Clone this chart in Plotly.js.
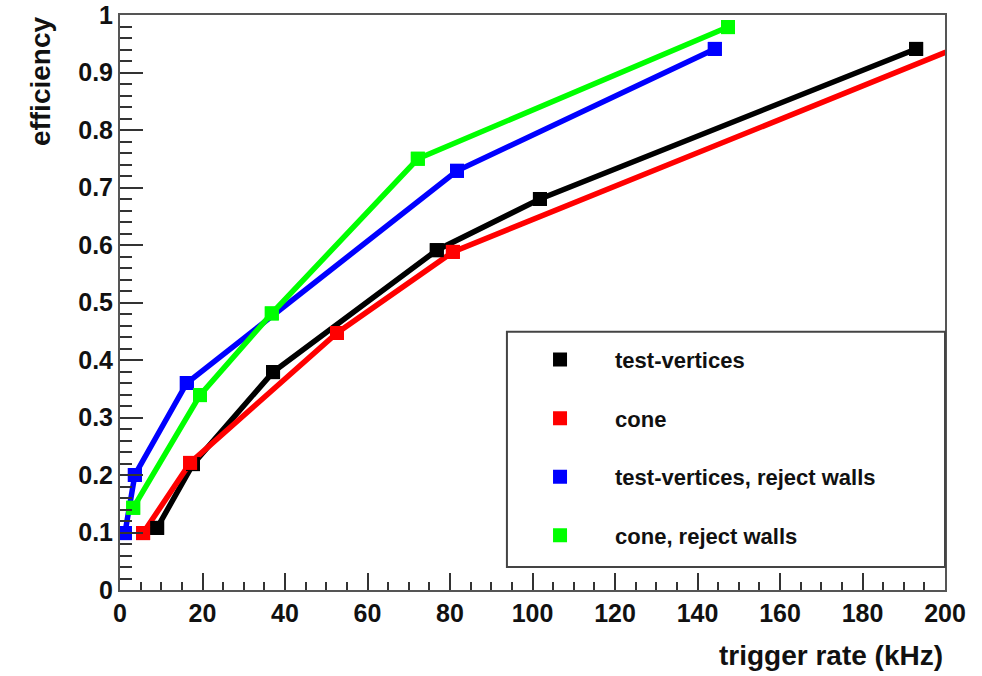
<!DOCTYPE html>
<html>
<head>
<meta charset="utf-8">
<script src="https://cdn.plot.ly/plotly-3.0.1.min.js"></script>
<style>html,body{margin:0;padding:0;background:#fff;}#chart{width:982px;height:676px;}</style>
</head>
<body>
<div id="chart"></div>
<script>
// Data
const seriesNames = ["test-vertices", "cone", "test-vertices, reject walls", "cone, reject walls"];
const seriesColors = ["#000000", "#ff0000", "#0000ff", "#00ff00"];

const tvRate = [9.0, 17.7, 37.1, 76.8, 101.8, 193.0];
const tvEff  = [0.108, 0.219, 0.379, 0.591, 0.680, 0.941];

const coneRate = [5.6, 17.0, 52.6, 80.7, 218];
const coneEff  = [0.099, 0.221, 0.447, 0.588, 0.987];

const tvWallRate = [1.2, 3.6, 16.2, 81.7, 144.2];
const tvWallEff  = [0.099, 0.200, 0.360, 0.729, 0.941];

const coneWallRate = [3.2, 19.4, 36.8, 72.2, 147.4];
const coneWallEff  = [0.143, 0.339, 0.481, 0.750, 0.979];

const xTicks = [0, 20, 40, 60, 80, 100, 120, 140, 160, 180, 200];
const yTicks = [0, 0.1, 0.2, 0.3, 0.4, 0.5, 0.6, 0.7, 0.8, 0.9, 1];

const xs = [tvRate, coneRate, tvWallRate, coneWallRate];
const ys = [tvEff, coneEff, tvWallEff, coneWallEff];

const FONT = "Liberation Sans, Arial, Helvetica, sans-serif";

const traces = [];
for (let i = 0; i < 4; i++) {
  traces.push({
    x: xs[i], y: ys[i], type: "scatter", mode: "lines+markers",
    line: {color: seriesColors[i], width: 5.5},
    marker: {symbol: "square", size: 14, color: seriesColors[i]},
    showlegend: false, hoverinfo: "skip", cliponaxis: true
  });
}
for (let i = 0; i < 4; i++) {
  traces.push({
    x: xs[i], y: ys[i], type: "scatter", mode: "markers",
    name: seriesNames[i], legendgroup: "g" + i,
    marker: {symbol: "square", size: 14, color: seriesColors[i]},
    showlegend: true, hoverinfo: "skip", cliponaxis: true
  });
}

const axisCommon = {
  showgrid: false, zeroline: false,
  showline: true, mirror: true, linecolor: "#555", linewidth: 2,
  ticks: "inside", tickcolor: "#333", tickwidth: 2,
  tickfont: {family: FONT, size: 25, color: "#111", weight: "bold"}
};

const layout = {
  width: 982, height: 676,
  margin: {l: 120, r: 37, t: 15, b: 86, pad: 0},
  paper_bgcolor: "#fff", plot_bgcolor: "#fff",
  font: {family: FONT, color: "#111"},
  xaxis: Object.assign({}, axisCommon, {
    range: [0, 200], tickvals: xTicks, ticktext: xTicks.map(String), ticklen: 17,
    minor: {dtick: 5, tick0: 0, ticks: "inside", ticklen: 8, tickcolor: "#333", tickwidth: 2}
  }),
  yaxis: Object.assign({}, axisCommon, {
    range: [0, 1], tickvals: yTicks, ticktext: yTicks.map(String), ticklen: 23,
    minor: {dtick: 0.02, tick0: 0, ticks: "inside", ticklen: 12, tickcolor: "#333", tickwidth: 2}
  }),
  showlegend: true,
  legend: {
    x: 0.4667, y: 0.437, xanchor: "left", yanchor: "top",
    bgcolor: "rgba(0,0,0,0)", borderwidth: 0,
    font: {family: FONT, size: 22, color: "#111", weight: "bold"},
    tracegroupgap: 27, itemwidth: 100, traceorder: "grouped"
  },
  shapes: [{
    type: "rect", xref: "paper", yref: "paper",
    x0: 0.469, x1: 1.0, y0: 0.040, y1: 0.449,
    line: {color: "#444", width: 2}, fillcolor: "#fff", layer: "above"
  }],
  annotations: [
    {text: "efficiency", xref: "paper", yref: "paper", x: -0.097, y: 0.885,
     xanchor: "center", yanchor: "middle", textangle: -90, showarrow: false,
     font: {family: FONT, size: 28, color: "#111", weight: "bold"}},
    {text: "trigger rate (kHz)", xref: "paper", yref: "paper", x: 1.0, y: -0.083,
     xanchor: "right", yanchor: "top", showarrow: false,
     font: {family: FONT, size: 28, color: "#111", weight: "bold"}}
  ]
};

Plotly.newPlot("chart", traces, layout, {staticPlot: true, displayModeBar: false});
</script>
</body>
</html>
